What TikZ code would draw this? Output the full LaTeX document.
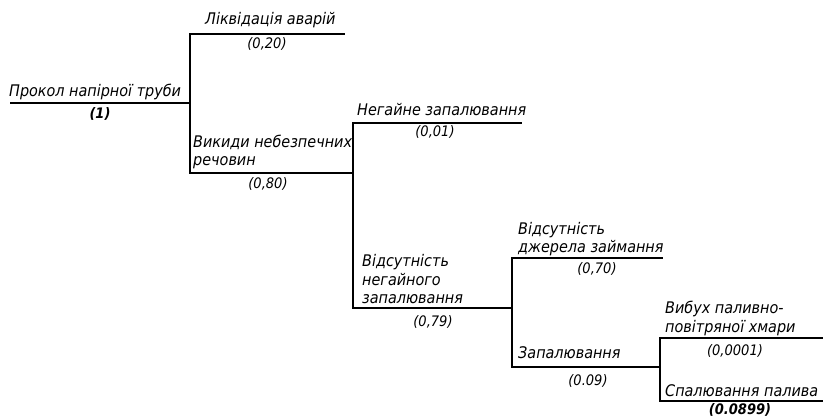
\documentclass[tikz,border=0pt]{standalone}
\usepackage{fontspec}
\setmainfont{DejaVu Sans Condensed}
\usetikzlibrary{positioning}

\begin{document}
\begin{tikzpicture}[x=1pt,y=-1pt,
  evt/.style={font=\itshape\fontsize{16}{18.5}\selectfont,inner sep=0pt,align=left},
  prob/.style={font=\itshape\fontsize{14.5}{15}\selectfont,inner sep=0pt},
  bprob/.style={prob,font=\bfseries\itshape\fontsize{14.5}{15}\selectfont},
  branch/.style={line width=1.8pt}
]
\useasboundingbox (0,0) rectangle (823,417);
% fork points and branch ends
\coordinate (start) at (10,103);
\coordinate (f1) at (190,103);
\coordinate (f2) at (353,173);
\coordinate (f3) at (512,308);
\coordinate (f4) at (660,367);
\coordinate (e1) at (345,34);
\coordinate (e2) at (522,123);
\coordinate (e3) at (663,258);
\coordinate (e4) at (823,338);
\coordinate (e5) at (823,401);
\draw[branch] (start) -- (f1);
\draw[branch] (f1) |- (e1);
\draw[branch] (f1) |- (f2);
\draw[branch] (f2) |- (e2);
\draw[branch] (f2) |- (f3);
\draw[branch] (f3) |- (e3);
\draw[branch] (f3) |- (f4);
\draw[branch] (f4) |- (e4);
\draw[branch] (f4) |- (e5);
% events
\node[evt,anchor=base west] (leak) at (9,97) {Прокол напірної труби};
\node[evt,anchor=base west] (liq) at (205,25) {Ліквідація аварій};
\node[evt,anchor=base west] (rel) at (193,166) {Викиди небезпечних\\речовин};
\node[evt,anchor=base west] (imm) at (357,116) {Негайне запалювання};
\node[evt,anchor=base west] (noimm) at (362,304) {Відсутність\\негайного\\запалювання};
\node[evt,anchor=base west] (nosrc) at (518,253) {Відсутність\\джерела займання};
\node[evt,anchor=base west] (ign) at (518,358) {Запалювання};
\node[evt,anchor=base west] (expl) at (665,332) {Вибух паливно-\\повітряної хмари};
\node[evt,anchor=base west] (burn) at (665,396) {Спалювання палива};
% probabilities
\node[bprob,anchor=base] (p1) at (100,119) {(1)};
\node[prob,anchor=base] (p2) at (267,49) {(0,20)};
\node[prob,anchor=base] (p3) at (268,189) {(0,80)};
\node[prob,anchor=base] (p4) at (435,137) {(0,01)};
\node[prob,anchor=base] (p5) at (433,326) {(0,79)};
\node[prob,anchor=base] (p6) at (597,273) {(0,70)};
\node[prob,anchor=base] (p7) at (588,385) {(0.09)};
\node[prob,anchor=base] (p8) at (735,355) {(0,0001)};
\node[bprob,anchor=base] (p9) at (740,414) {(0.0899)};
\end{tikzpicture}
\end{document}
